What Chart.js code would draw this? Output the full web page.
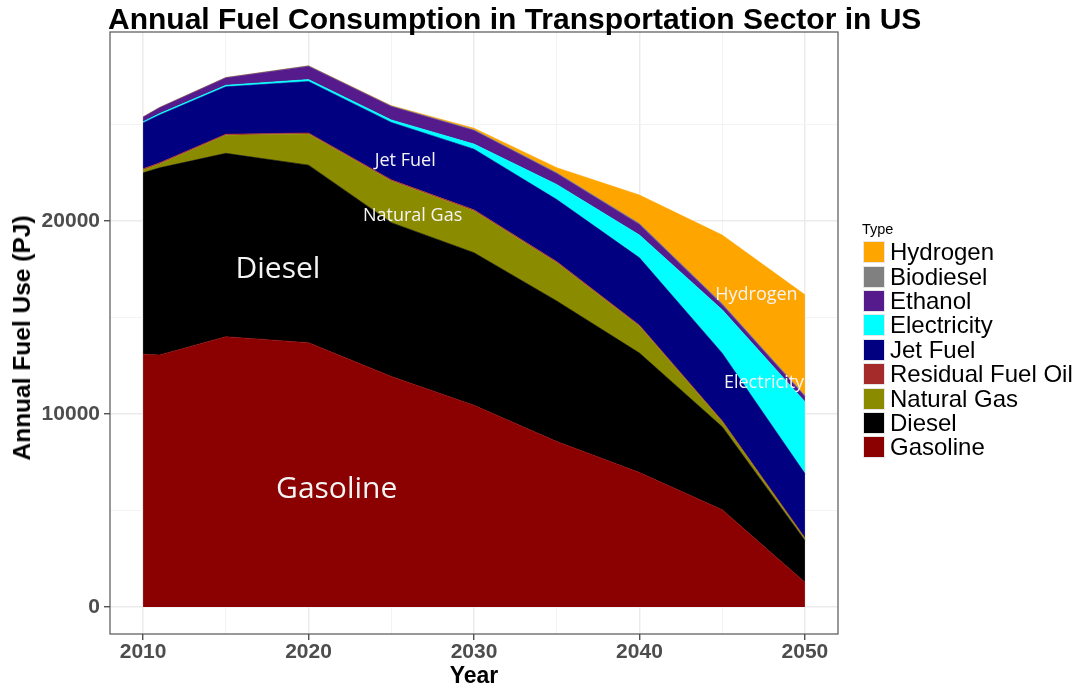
<!DOCTYPE html>
<html>
<head>
<meta charset="utf-8">
<script src="https://cdn.jsdelivr.net/npm/chart.js@4/dist/chart.umd.min.js"></script>
<style>
  html, body { margin: 0; padding: 0; background: #ffffff; }
  #wrap { position: relative; width: 1082px; height: 686px; overflow: hidden; font-family: "Liberation Sans", Arial, sans-serif; }
  #c { position: absolute; left: 0; top: 0; }
  #title { position: absolute; left: 108px; top: 4px; font-size: 30px; line-height: 30px; font-weight: bold; color: #000; white-space: nowrap; }
  #ytitle { position: absolute; left: 22px; top: 338px; transform: translate(-50%, -50%) rotate(-90deg); font-size: 24.5px; font-weight: bold; color: #000; white-space: nowrap; }
  #xtitle { position: absolute; left: 474px; top: 675px; transform: translate(-50%, -50%); font-size: 23px; font-weight: bold; color: #000; white-space: nowrap; }
  #legend { position: absolute; left: 862px; top: 220px; }
  #legend .lt { font-size: 14.5px; line-height: 18px; color: #000; margin-bottom: 2px; }
  #legend .it { display: flex; align-items: center; height: 24.4px; }
  #legend .sw { width: 22px; height: 22px; margin-left: 1px; box-sizing: border-box; border: 1px solid #e6e6e6; flex: none; }
  #legend .tx { font-size: 24px; line-height: 24px; margin-left: 5px; color: #000; white-space: nowrap; }
</style>
</head>
<body>
<div id="wrap">
  <canvas id="c" width="1082" height="686"></canvas>
  <div id="title">Annual Fuel Consumption in Transportation Sector in US</div>
  <div id="ytitle">Annual Fuel Use (PJ)</div>
  <div id="xtitle">Year</div>
  <div id="legend"></div>
</div>
<script>
// ---- data (PJ) ----
const years       = [2010, 2011, 2015, 2020, 2025, 2030, 2035, 2040, 2045, 2050];
const gasoline    = [13100, 13060, 14010, 13700, 11950, 10450, 8580, 6970, 5040, 1280];
const diesel      = [9400, 9700, 9500, 9200, 7970, 7910, 7280, 6190, 4300, 2170];
const naturalGas  = [150, 200, 935, 1610, 2160, 2165, 1980, 1385, 260, 90];
const residualOil = [60, 60, 60, 60, 60, 60, 60, 60, 50, 50];
const jetFuel     = [2380, 2480, 2454, 2665, 2974, 3144, 3217, 3492, 3506, 3326];
const electricity = [60, 70, 80, 100, 130, 260, 780, 1180, 2250, 3727];
const ethanol     = [230, 300, 380, 680, 690, 700, 570, 550, 260, 260];
const biodiesel   = [20, 20, 20, 30, 30, 40, 40, 50, 60, 60];
const hydrogen    = [0, 0, 0, 0, 20, 80, 260, 1470, 3550, 5220];

const seriesNames  = ["Gasoline", "Diesel", "Natural Gas", "Residual Fuel Oil", "Jet Fuel", "Electricity", "Ethanol", "Biodiesel", "Hydrogen"];
const seriesValues = [gasoline, diesel, naturalGas, residualOil, jetFuel, electricity, ethanol, biodiesel, hydrogen];
const seriesColors = ["#8B0000", "#000000", "#8B8B00", "#A52A2A", "#000080", "#00FFFF", "#551A8B", "#808080", "#FFA500"];

const yTicks = [0, 5000, 10000, 15000, 20000, 25000];
const xTicks = [2010, 2015, 2020, 2025, 2030, 2035, 2040, 2045, 2050];

const annotations = [
  { text: "Diesel",      x: 2018.15, y: 17500, size: 30 },
  { text: "Gasoline",    x: 2021.7,  y: 6100,  size: 30 },
  { text: "Jet Fuel",    x: 2025.84, y: 23110, size: 18 },
  { text: "Natural Gas", x: 2026.29, y: 20295, size: 18 },
  { text: "Hydrogen",    x: 2047.07, y: 16200, size: 18 },
  { text: "Electricity", x: 2047.53, y: 11590, size: 18 }
];

// ---- build datasets ----
const datasets = seriesNames.map((name, i) => ({
  label: name,
  data: years.map((yr, j) => ({ x: yr, y: seriesValues[i][j] })),
  backgroundColor: seriesColors[i],
  borderColor: seriesColors[i],
  borderWidth: 0.6,
  pointRadius: 0,
  pointHoverRadius: 0,
  tension: 0,
  fill: i === 0 ? 'origin' : '-1'
}));

// ---- HTML legend (reverse order, as in the reference) ----
const leg = document.getElementById('legend');
let html = '<div class="lt">Type</div>';
for (let i = seriesNames.length - 1; i >= 0; i--) {
  html += '<div class="it"><div class="sw" style="background:' + seriesColors[i] + '"></div><div class="tx">' + seriesNames[i] + '</div></div>';
}
leg.innerHTML = html;

const panelPlugin = {
  id: 'panel',
  afterDatasetsDraw(chart) {
    const ctx = chart.ctx, xs = chart.scales.x, ys = chart.scales.y;
    ctx.save();
    ctx.fillStyle = '#f4f4f4';
    ctx.textAlign = 'center';
    ctx.textBaseline = 'middle';
    annotations.forEach(a => {
      ctx.font = a.size + 'px "Open Sans", "Noto Sans", sans-serif';
      ctx.fillText(a.text, xs.getPixelForValue(a.x), ys.getPixelForValue(a.y));
    });
    ctx.restore();
  },
  afterDraw(chart) {
    const ctx = chart.ctx, a = chart.chartArea;
    ctx.save();
    ctx.strokeStyle = '#555555';
    ctx.lineWidth = 1.2;
    ctx.strokeRect(a.left, a.top, a.right - a.left, a.bottom - a.top);
    ctx.restore();
  }
};

new Chart(document.getElementById('c'), {
  type: 'line',
  data: { datasets },
  options: {
    responsive: false,
    animation: false,
    events: [],
    layout: { padding: { left: 0, right: 244, top: 32, bottom: 0 } },
    plugins: { legend: { display: false }, title: { display: false }, tooltip: { enabled: false } },
    scales: {
      x: {
        type: 'linear',
        min: 2008,
        max: 2052,
        afterBuildTicks: s => { s.ticks = xTicks.map(v => ({ value: v })); },
        afterFit: s => { s.height = 52; },
        border: { display: false },
        grid: {
          color: c => (c.tick && c.tick.value % 10 === 0) ? '#ebebeb' : '#f3f3f3',
          lineWidth: c => (c.tick && c.tick.value % 10 === 0) ? 1.5 : 1,
          tickColor: c => (c.tick && c.tick.value % 10 === 0) ? '#333333' : 'rgba(0,0,0,0)',
          tickLength: 6,
          tickWidth: 1.2
        },
        ticks: {
          maxRotation: 0,
          autoSkip: false,
          padding: 0,
          color: '#4d4d4d',
          font: { family: '"Liberation Sans", Arial, sans-serif', size: 21, weight: 'bold' },
          callback: v => (v % 10 === 0 ? String(v) : '')
        }
      },
      y: {
        stacked: true,
        min: -1400,
        max: 29800,
        afterBuildTicks: s => { s.ticks = yTicks.map(v => ({ value: v })); },
        afterFit: s => { s.width = 110; },
        border: { display: false },
        grid: {
          color: c => (c.tick && c.tick.value % 10000 === 0) ? '#ebebeb' : '#f3f3f3',
          lineWidth: c => (c.tick && c.tick.value % 10000 === 0) ? 1.5 : 1,
          tickColor: c => (c.tick && c.tick.value % 10000 === 0) ? '#333333' : 'rgba(0,0,0,0)',
          tickLength: 6,
          tickWidth: 1.2
        },
        ticks: {
          autoSkip: false,
          padding: 4,
          color: '#4d4d4d',
          font: { family: '"Liberation Sans", Arial, sans-serif', size: 21, weight: 'bold' },
          callback: v => (v % 10000 === 0 ? String(v) : '')
        }
      }
    }
  },
  plugins: [panelPlugin]
});
</script>
</body>
</html>
